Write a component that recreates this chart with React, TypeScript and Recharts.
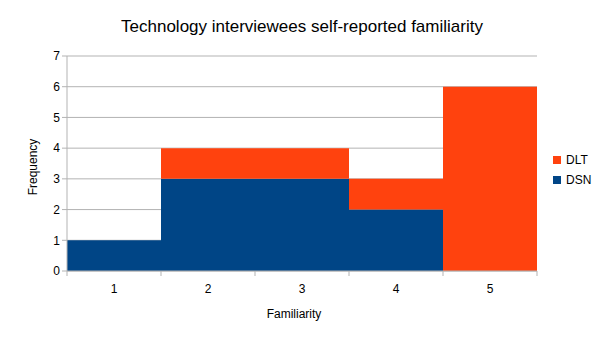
import React from "react";
import { Bar, BarChart, CartesianGrid, XAxis, YAxis } from "recharts";

const familiarity = ["1", "2", "3", "4", "5"];
const dsn = [1, 3, 3, 2, 0];
const dlt = [0, 1, 1, 1, 6];
const yTicks = [0, 1, 2, 3, 4, 5, 6, 7];

const data = familiarity.map((f, i) => ({ familiarity: f, DSN: dsn[i], DLT: dlt[i] }));

const W = 605;
const H = 340;
const plotLeft = 67;
const plotRight = 537;
const band = (plotRight - plotLeft) / familiarity.length;
const font = "'Liberation Sans', Arial, sans-serif";

const legendItems = [
  { name: "DLT", color: "#ff420e" },
  { name: "DSN", color: "#004586" },
];

function XTick(props: any) {
  const { x, y, payload, index } = props;
  const left = x - band / 2;
  return (
    <g>
      <line x1={left} y1={y - 8} x2={left} y2={y - 3} stroke="#b3b3b3" />
      {index === familiarity.length - 1 && (
        <line x1={left + band} y1={y - 8} x2={left + band} y2={y - 3} stroke="#b3b3b3" />
      )}
      <text x={x} y={y + 14} textAnchor="middle" fontSize={12} fill="#000" fontFamily={font}>
        {payload.value}
      </text>
    </g>
  );
}

export default function App() {
  return (
    <div style={{ position: "absolute", left: 0, top: 0, width: W, height: H, background: "#fff" }}>
      <BarChart
        width={W}
        height={H}
        data={data}
        barCategoryGap={0}
        margin={{ top: 56, right: W - plotRight, bottom: 39, left: 37 }}
      >
        <text x={302} y={32} textAnchor="middle" fontSize={17} fontFamily={font} fill="#000">
          Technology interviewees self-reported familiarity
        </text>
        <text x={294} y={318} textAnchor="middle" fontSize={12} fontFamily={font} fill="#000">
          Familiarity
        </text>
        <text
          x={37}
          y={167}
          textAnchor="middle"
          fontSize={12}
          fontFamily={font}
          fill="#000"
          transform="rotate(-90 37 167)"
        >
          Frequency
        </text>
        <CartesianGrid vertical={false} stroke="#b3b3b3" />
        <XAxis
          dataKey="familiarity"
          axisLine={{ stroke: "#b3b3b3" }}
          tickLine={false}
          tick={<XTick />}
          height={30}
        />
        <YAxis
          domain={[0, 7]}
          ticks={yTicks}
          width={30}
          axisLine={{ stroke: "#b3b3b3" }}
          tickLine={{ stroke: "#b3b3b3" }}
          tickSize={5}
          tick={{ fontSize: 12, fill: "#000", fontFamily: font }}
        />
        <YAxis
          yAxisId="r"
          orientation="right"
          width={0}
          tick={false}
          tickLine={false}
          axisLine={{ stroke: "#b3b3b3" }}
        />
        <Bar dataKey="DSN" stackId="a" fill="#004586" isAnimationActive={false} />
        <Bar dataKey="DLT" stackId="a" fill="#ff420e" isAnimationActive={false} />
      </BarChart>
      <div style={{ position: "absolute", left: 553, top: 150, fontFamily: font, fontSize: 12 }}>
        {legendItems.map((it) => (
          <div key={it.name} style={{ display: "flex", alignItems: "center", height: 20 }}>
            <span style={{ width: 8, height: 8, background: it.color, marginRight: 5 }} />
            <span>{it.name}</span>
          </div>
        ))}
      </div>
    </div>
  );
}
